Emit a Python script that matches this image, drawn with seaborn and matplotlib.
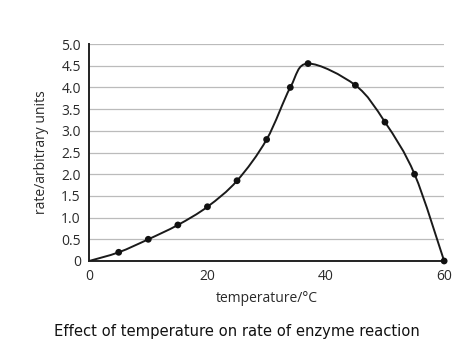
import numpy as np
import pandas as pd
import matplotlib
matplotlib.use("Agg")
import matplotlib.pyplot as plt
from matplotlib.path import Path
from matplotlib.patches import PathPatch
import seaborn as sns

temperature = [0, 5, 10, 15, 20, 25, 30, 34, 37, 45, 50, 55, 60]
rate = [0, 0.2, 0.5, 0.83, 1.25, 1.85, 2.8, 4.0, 4.55, 4.05, 3.2, 2.0, 0]
x_ticks = [0, 20, 40, 60]
y_ticks = [0, 0.5, 1.0, 1.5, 2.0, 2.5, 3.0, 3.5, 4.0, 4.5, 5.0]
y_tick_labels = ["0", "0.5", "1.0", "1.5", "2.0", "2.5", "3.0", "3.5", "4.0", "4.5", "5.0"]
caption = "Effect of temperature on rate of enzyme reaction"

df = pd.DataFrame({"temperature": temperature, "rate": rate})

sns.set_theme(style="white")
plt.rcParams["font.family"] = ["Open Sans", "DejaVu Sans"]

fig = plt.figure(figsize=(4.74, 3.58), dpi=100)
ax = fig.add_axes([0.188, 0.271, 0.749, 0.606])

# smooth curve through the measured points (Catmull-Rom as cubic bezier)
pts = df[["temperature", "rate"]].to_numpy(dtype=float)
verts = [pts[0]]
codes = [Path.MOVETO]
for i in range(len(pts) - 1):
    p0 = pts[i - 1] if i > 0 else pts[i]
    p1, p2 = pts[i], pts[i + 1]
    p3 = pts[i + 2] if i + 2 < len(pts) else pts[i + 1]
    verts += [p1 + (p2 - p0) / 6, p2 - (p3 - p1) / 6, p2]
    codes += [Path.CURVE4] * 3
ax.add_patch(PathPatch(Path(verts, codes), fill=False, lw=1.4, color="#1a1a1a", zorder=3))

sns.scatterplot(data=df.iloc[1:], x="temperature", y="rate", ax=ax, color="#111111",
                s=24, edgecolor="none", zorder=4, clip_on=False)

ax.set_xlim(0, 60)
ax.set_ylim(0, 5.0)
ax.set_xticks(x_ticks)
ax.set_yticks(y_ticks)
ax.set_yticklabels(y_tick_labels)
ax.yaxis.grid(True, color="#bbbbbb", lw=0.9)
ax.xaxis.grid(False)
sns.despine(ax=ax)
for s in ["left", "bottom"]:
    ax.spines[s].set_color("#222222")
    ax.spines[s].set_linewidth(1.4)
ax.tick_params(axis="x", length=4, color="#999999", labelsize=10, labelcolor="#2a2a2a", pad=2)
ax.tick_params(axis="y", length=0, labelsize=10, labelcolor="#2a2a2a", pad=6)
ax.set_xlabel("temperature/°C", fontsize=10, color="#2a2a2a", labelpad=5)
ax.set_ylabel("rate/arbitrary units", fontsize=10, color="#2a2a2a", labelpad=9)

fig.text(0.5, 0.073, caption, ha="center", va="center", fontsize=10.6, family="DejaVu Sans", color="#111111")

fig.savefig("out.png", dpi=100)
